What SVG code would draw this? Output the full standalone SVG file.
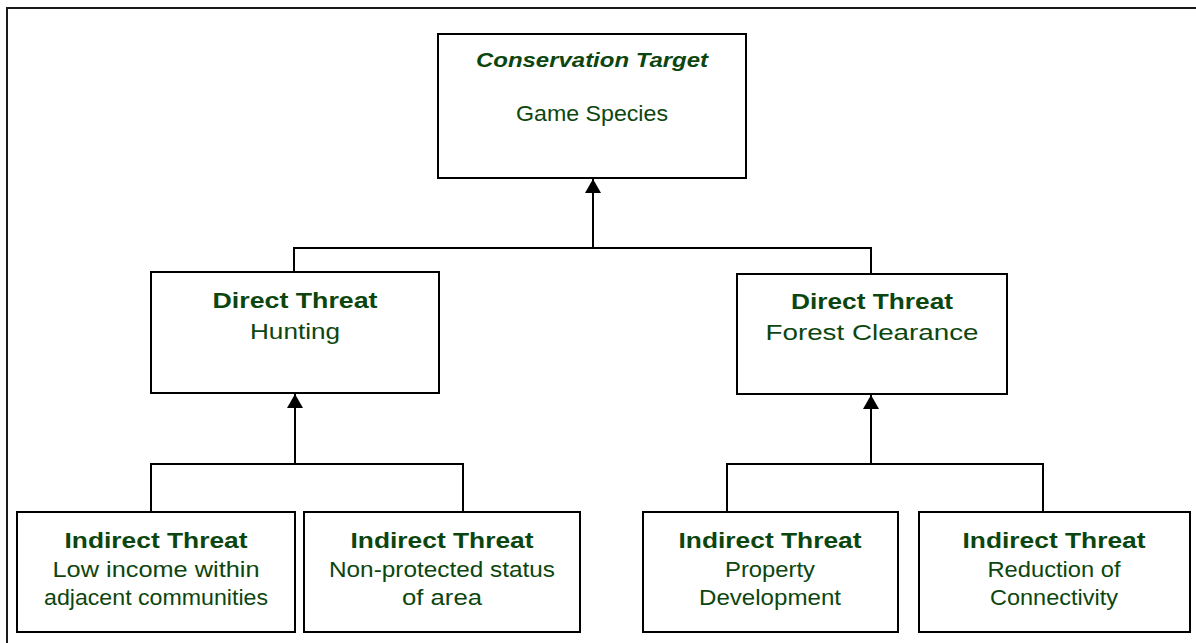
<svg xmlns="http://www.w3.org/2000/svg" width="1196" height="643" viewBox="0 0 1196 643">
  <defs>
    <!-- filled arrowhead, drawn along +x so orient="auto" turns it to the line direction -->
    <marker id="arrow" markerWidth="14" markerHeight="16" refX="14" refY="8" orient="auto" markerUnits="userSpaceOnUse" viewBox="0 0 14 16">
      <path d="M0 0 L14 8 L0 16 Z" fill="#000"/>
    </marker>
    <style>
      .box { fill: #fff; stroke: #000; stroke-width: 2; }
      .wire { fill: none; stroke: #000; stroke-width: 2; }
      .frame { fill: none; stroke: #1a1a1a; stroke-width: 2; }
      text { font-family: "Liberation Sans", Arial, sans-serif; fill: #0c460e; text-anchor: middle; }
      .head { font-size: 22px; font-weight: bold; }
      .headi { font-size: 21px; font-weight: bold; font-style: italic; }
      .body { font-size: 21.5px; }
    </style>
  </defs>

  <rect width="1196" height="643" fill="#fff"/>
  <!-- page frame -->
  <path class="frame" d="M7 643 V8 H1196"/>

  <!-- connectors -->
  <g id="connectors">
    <path class="wire" d="M294 272 V248 H871 V274"/>
    <path class="wire" d="M593 248 V179" marker-end="url(#arrow)"/>
    <path class="wire" d="M151 512 V464 H463 V512"/>
    <path class="wire" d="M295 464 V394" marker-end="url(#arrow)"/>
    <path class="wire" d="M727 512 V464 H1043 V512"/>
    <path class="wire" d="M871 464 V395" marker-end="url(#arrow)"/>
  </g>

  <g id="target">
    <rect class="box" x="438" y="34" width="308" height="144"/>
    <text class="headi" x="592" y="67" textLength="232" lengthAdjust="spacingAndGlyphs">Conservation Target</text>
    <text class="body" x="592" y="121" textLength="152" lengthAdjust="spacingAndGlyphs">Game Species</text>
  </g>

  <g id="direct-hunting">
    <rect class="box" x="151" y="272" width="288" height="121"/>
    <text class="head" x="295" y="308" textLength="165" lengthAdjust="spacingAndGlyphs">Direct Threat</text>
    <text class="body" x="295" y="339" textLength="90" lengthAdjust="spacingAndGlyphs">Hunting</text>
  </g>

  <g id="direct-forest">
    <rect class="box" x="737" y="274" width="270" height="120"/>
    <text class="head" x="872" y="309" textLength="162" lengthAdjust="spacingAndGlyphs">Direct Threat</text>
    <text class="body" x="872" y="340" textLength="213" lengthAdjust="spacingAndGlyphs">Forest Clearance</text>
  </g>

  <g id="indirect-income">
    <rect class="box" x="17" y="512" width="278" height="120"/>
    <text class="head" x="156" y="548" textLength="183" lengthAdjust="spacingAndGlyphs">Indirect Threat</text>
    <text class="body" x="156" y="577" textLength="207" lengthAdjust="spacingAndGlyphs">Low income within</text>
    <text class="body" x="156" y="605" textLength="224" lengthAdjust="spacingAndGlyphs">adjacent communities</text>
  </g>

  <g id="indirect-status">
    <rect class="box" x="304" y="512" width="276" height="120"/>
    <text class="head" x="442" y="548" textLength="183" lengthAdjust="spacingAndGlyphs">Indirect Threat</text>
    <text class="body" x="442" y="577" textLength="226" lengthAdjust="spacingAndGlyphs">Non-protected status</text>
    <text class="body" x="442" y="605" textLength="80" lengthAdjust="spacingAndGlyphs">of area</text>
  </g>

  <g id="indirect-property">
    <rect class="box" x="643" y="512" width="255" height="120"/>
    <text class="head" x="770" y="548" textLength="183" lengthAdjust="spacingAndGlyphs">Indirect Threat</text>
    <text class="body" x="770" y="577" textLength="90" lengthAdjust="spacingAndGlyphs">Property</text>
    <text class="body" x="770" y="605" textLength="142" lengthAdjust="spacingAndGlyphs">Development</text>
  </g>

  <g id="indirect-connectivity">
    <rect class="box" x="919" y="512" width="271" height="120"/>
    <text class="head" x="1054" y="548" textLength="183" lengthAdjust="spacingAndGlyphs">Indirect Threat</text>
    <text class="body" x="1054" y="577" textLength="133" lengthAdjust="spacingAndGlyphs">Reduction of</text>
    <text class="body" x="1054" y="605" textLength="128" lengthAdjust="spacingAndGlyphs">Connectivity</text>
  </g>
</svg>
